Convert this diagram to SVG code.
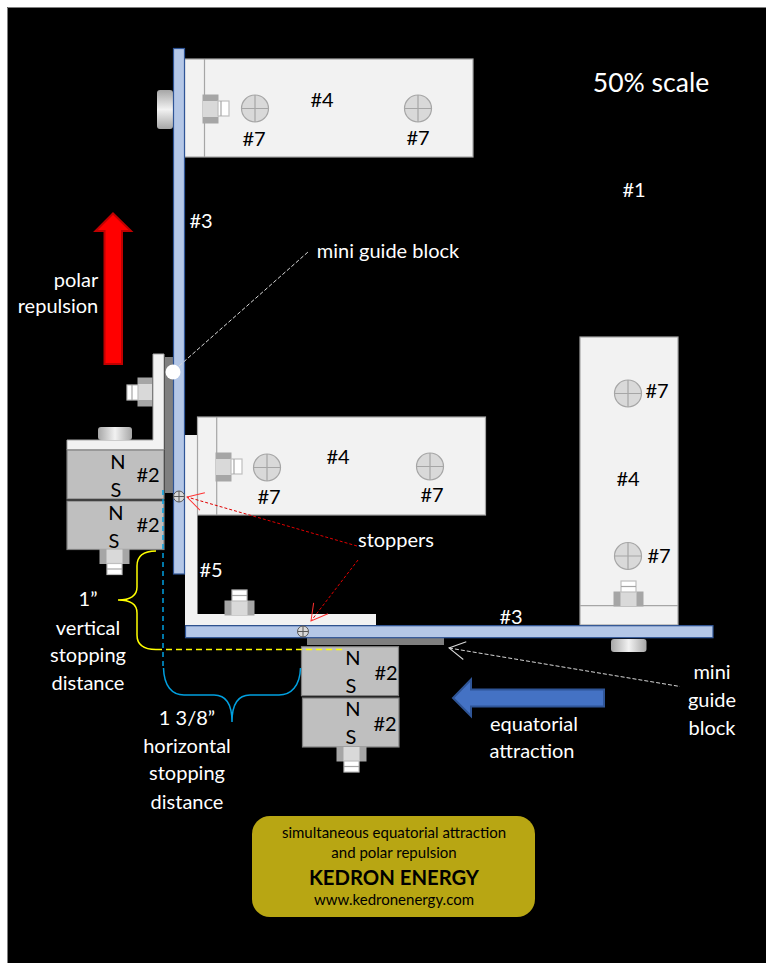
<svg xmlns="http://www.w3.org/2000/svg" width="766" height="963" viewBox="0 0 766 963">
<style>
text{font-family:"Lato","Open Sans",sans-serif;text-anchor:middle}
.w{fill:#fff;font-size:20px}
.k{fill:#000;font-size:20px}
.plate{fill:#f2f2f2;stroke:#a6a6a6;stroke-width:1.2}
.bar{fill:#b4c7e7;stroke:#2f5597;stroke-width:1.2}
.mag{fill:#bfbfbf;stroke:#7f7f7f;stroke-width:1.2}
.gb{fill:#7f7f7f}
.hd{fill:#a6a6a6;stroke:#a6a6a6}
.hm{fill:#d9d9d9}
.tip{fill:#fff;stroke:#bfbfbf;stroke-width:1.2}
.scr{fill:#d9d9d9;stroke:#a6a6a6;stroke-width:1.2}
.ln{fill:none;stroke:#a6a6a6;stroke-width:1.2}
.rd{fill:none;stroke:#e00000;stroke-width:1;stroke-dasharray:3 2}
.wd{fill:none;stroke:#d9d9d9;stroke-width:1;stroke-dasharray:4 2}
</style>
<defs>
<linearGradient id="pv" x1="0" y1="0" x2="0" y2="1"><stop offset="0" stop-color="#a6a6a6"/><stop offset=".5" stop-color="#f2f2f2"/><stop offset="1" stop-color="#a6a6a6"/></linearGradient>
<linearGradient id="ph" x1="0" y1="0" x2="1" y2="0"><stop offset="0" stop-color="#a6a6a6"/><stop offset=".5" stop-color="#f2f2f2"/><stop offset="1" stop-color="#a6a6a6"/></linearGradient>
<g id="screw"><circle r="13.5" class="scr"/><path d="M-13.5 0H13.5M0-13.5V13.5" class="ln"/></g>
<g id="boltR"><rect x="0" y="0" width="15" height="28" class="hd"/><rect x="0" y="6" width="15" height="16" class="hm"/><rect x="15" y="6" width="11" height="15" class="tip"/><path d="M18 6V21" class="ln"/></g>
<g id="boltU"><rect x="-14.500" y="0" width="29" height="14" class="hd"/><rect x="-8" y="0" width="16" height="14" class="hm"/><rect x="-7.500" y="-11" width="15" height="11" class="tip"/><path d="M-7.500-5.500H7.500" class="ln"/></g>
<g id="boltD"><rect x="-14.500" y="0" width="29" height="14" class="hd"/><rect x="-8" y="0" width="16" height="14" class="hm"/><rect x="-7.500" y="14" width="15" height="11" class="tip"/><path d="M-7.500 19.500H7.500" class="ln"/></g>
<marker id="oar" markerWidth="20" markerHeight="24" refX="18" refY="12" orient="auto" markerUnits="userSpaceOnUse"><path d="M2 3L18 12L2 21" fill="none" stroke="#ff3030"/></marker>
<marker id="oaw" markerWidth="20" markerHeight="24" refX="18" refY="12" orient="auto-start-reverse" markerUnits="userSpaceOnUse"><path d="M2 3L18 12L2 21" fill="none" stroke="#d9d9d9"/></marker>
</defs>

<rect width="766" height="963" fill="#fff"/>
<rect x="7" y="7" width="759" height="956" fill="#000"/>
<path d="M7.500 963V7.500H766" fill="none" stroke="#7f7f7f"/>

<g id="node-top-block">
<rect x="157" y="90" width="16" height="39" rx="3" fill="url(#pv)"/>
<rect x="184.500" y="59" width="288.500" height="98" class="plate"/>
<path d="M204.500 59V157" class="ln"/>
<use href="#boltR" x="203" y="95"/>
<use href="#screw" x="255" y="108.500"/>
<use href="#screw" x="418" y="108.500"/>
<text class="k" x="322" y="107">#4</text>
<text class="k" x="254" y="146">#7</text>
<text class="k" x="418" y="145">#7</text>
</g>

<g id="node-bracket-5">
<path d="M185 435H197.500V614H376V625H185Z" fill="#f2f2f2"/>
<use href="#boltU" x="239.500" y="601"/>
<text class="w" x="211" y="577">#5</text>
</g>

<g id="node-mid-block">
<rect x="197.500" y="417" width="288" height="98" class="plate"/>
<path d="M216.700 417V515" class="ln"/>
<use href="#boltR" x="216" y="453"/>
<use href="#screw" x="267" y="467.500"/>
<use href="#screw" x="430" y="466.500"/>
<text class="k" x="338" y="464">#4</text>
<text class="k" x="269" y="504">#7</text>
<text class="k" x="432" y="502">#7</text>
</g>

<g id="node-left-assembly">
<rect x="165" y="357" width="8.500" height="136" class="gb"/>
<path d="M153 354H164V450H67V440H153Z" fill="#f2f2f2" stroke="#a6a6a6"/>
<rect x="98" y="427" width="34" height="13" rx="3" fill="url(#ph)"/>
<g transform="translate(152 378)"><rect x="-14" width="14" height="28" class="hd"/><rect x="-14" y="6" width="14" height="16" class="hm"/><rect x="-25" y="7" width="11" height="15" class="tip"/><path d="M-20 7V22" class="ln"/></g>
<rect x="67" y="450" width="97" height="49" class="mag"/>
<rect x="67" y="501" width="97" height="48.500" class="mag"/>
<path d="M67 500H164" stroke="#404040" stroke-width="2"/>
<use href="#boltD" x="114.500" y="549.500"/>
<text class="k" x="118" y="469">N</text>
<text class="k" x="116" y="497">S</text>
<text class="k" x="116" y="520">N</text>
<text class="k" x="114" y="548">S</text>
<text class="k" x="148" y="482">#2</text>
<text class="k" x="148" y="532">#2</text>
</g>

<g id="node-right-block">
<rect x="611" y="639" width="35.500" height="13" rx="3" fill="url(#ph)"/>
<rect x="580" y="337" width="98" height="288" class="plate"/>
<path d="M580 605.700H678" class="ln"/>
<use href="#boltU" x="628.500" y="592"/>
<use href="#screw" x="628" y="393.500"/>
<use href="#screw" x="628" y="556"/>
<text class="k" x="657" y="398">#7</text>
<text class="k" x="628" y="486">#4</text>
<text class="k" x="659" y="563">#7</text>
</g>

<g id="node-lower-assembly">
<rect x="307" y="637.500" width="137" height="7.500" class="gb"/>
<rect x="301.500" y="646.700" width="97" height="49" class="mag"/>
<rect x="302.500" y="698" width="96.500" height="49" class="mag"/>
<use href="#boltD" x="351.500" y="747"/>
<text class="k" x="353" y="665">N</text>
<text class="k" x="351" y="693">S</text>
<text class="k" x="353" y="716">N</text>
<text class="k" x="351" y="744">S</text>
<text class="k" x="386" y="680">#2</text>
<text class="k" x="385" y="731">#2</text>
</g>

<g id="node-bars">
<rect x="173.500" y="48.500" width="11" height="525.500" class="bar"/>
<rect x="185.500" y="625.700" width="527.500" height="12" class="bar"/>
<circle cx="179" cy="496.500" r="5.500" fill="#d9d9d9" stroke="#595959"/>
<path d="M173.500 496.500H184.500M179 491V502" stroke="#595959" fill="none"/>
<circle cx="303" cy="631.500" r="5.500" fill="#d9d9d9" stroke="#595959"/>
<path d="M297.500 631.500H308.500M303 626V637" stroke="#595959" fill="none"/>
<circle cx="173" cy="372" r="7.500" fill="#fff"/>
<text class="w" x="201" y="228">#3</text>
<text class="w" x="511" y="624">#3</text>
</g>

<g id="connectors">
<path d="M179 366L308 252" class="wd"/>
<path d="M449 648L680 686.500" class="wd" marker-start="url(#oaw)"/>
<path d="M357 546L187 497" class="rd" marker-end="url(#oar)"/>
<path d="M358 560L311 621" class="rd" marker-end="url(#oar)"/>
<path d="M163 490V668" fill="none" stroke="#00a0e0" stroke-width="1.500" stroke-dasharray="5 4"/>
<path d="M156 649.500H346" fill="none" stroke="#ffff00" stroke-width="1.500" stroke-dasharray="6 4"/>
<path d="M156 551C143 551 137 556 137 566V587C137 596 130 600 118 600C130 600 137 604 137 613V635C137 645 143 649.500 156 649.500" fill="none" stroke="#ffff00" stroke-width="1.500"/>
<path d="M163.500 668C164 686 172 695 184 695H214C226 695 232 704 232 722C232 704 238 695 250 695H279C291 695 300 686 300.500 668" fill="none" stroke="#00a0e0" stroke-width="1.500"/>
</g>

<g id="node-red-arrow"><path d="M104.500 364V231H95.500L113 213.500L131 231H122V364Z" fill="#ff0000" stroke="#c00000" stroke-width="2"/></g>
<g id="node-blue-arrow"><path d="M604 689.500H471V679.500L453 698L471 716V706.500H604Z" fill="#4472c4" stroke="#2f5597" stroke-width="2"/></g>

<g id="labels">
<text class="w" x="651" y="92" style="font-size:26.500px">50% scale</text>
<text class="w" x="634" y="197">#1</text>
<text class="w" x="388" y="258">mini guide block</text>
<text class="w" x="76" y="287">polar</text>
<text class="w" x="58" y="313">repulsion</text>
<text class="w" x="396" y="547">stoppers</text>
<text class="w" x="88" y="606">1”</text>
<text class="w" x="88" y="635">vertical</text>
<text class="w" x="88" y="662">stopping</text>
<text class="w" x="88" y="690">distance</text>
<text class="w" x="187" y="725">1 3/8”</text>
<text class="w" x="187" y="753">horizontal</text>
<text class="w" x="187" y="780">stopping</text>
<text class="w" x="187" y="809">distance</text>
<text class="w" x="712" y="679">mini</text>
<text class="w" x="712" y="707">guide</text>
<text class="w" x="712" y="735">block</text>
<text class="w" x="534" y="731">equatorial</text>
<text class="w" x="532" y="758">attraction</text>
</g>

<g id="node-banner">
<rect x="252" y="816" width="283" height="101" rx="18" fill="#b8a613"/>
<text x="394" y="838" style="font-size:15px" fill="#000">simultaneous equatorial attraction</text>
<text x="394" y="858" style="font-size:15px" fill="#000">and polar repulsion</text>
<text x="394" y="885" style="font-size:20.300px;font-weight:700" fill="#000">KEDRON ENERGY</text>
<text x="394" y="905" style="font-size:15px" fill="#000">www.kedronenergy.com</text>
</g>
</svg>
